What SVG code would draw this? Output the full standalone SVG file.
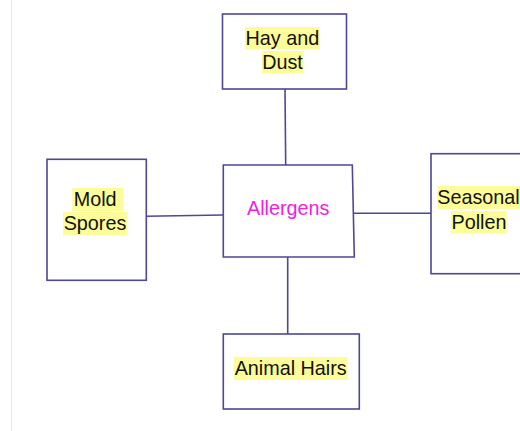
<svg xmlns="http://www.w3.org/2000/svg" width="520" height="431" viewBox="0 0 520 431">
<style>
.box{fill:#fff;stroke:#4d4796;stroke-width:1.6}
.ln{stroke:#4d4796;stroke-width:1.6;fill:none}
.hl{fill:#fcfc98}
.t{font-family:"Liberation Sans",Arial,sans-serif;font-size:19.8px;fill:#111;text-anchor:middle}
.m{fill:#ee22dd}
</style>
<rect width="520" height="431" fill="#fff"/>
<line x1="11.5" y1="0" x2="11.5" y2="431" stroke="#e6e6e6" stroke-width="1"/>
<g id="connectors">
<line class="ln" x1="285" y1="89" x2="285.7" y2="165"/>
<line class="ln" x1="146.3" y1="216.3" x2="223.3" y2="215"/>
<line class="ln" x1="353.5" y1="213.3" x2="431" y2="213.3"/>
<line class="ln" x1="287.7" y1="257" x2="287.7" y2="334"/>
</g>
<g id="hay">
<rect class="box" x="222.5" y="14" width="124" height="75"/>
<rect class="hl" x="245" y="27" width="74.5" height="22.5"/>
<rect class="hl" x="261.7" y="51" width="41.6" height="22.5"/>
<text class="t" x="282.4" y="45.3">Hay and</text>
<text class="t" x="282.5" y="69.3">Dust</text>
</g>
<g id="allergens">
<polygon class="box" points="223.3,165 352.3,165 354.3,257 223.3,257"/>
<text class="t m" x="288.2" y="214.5">Allergens</text>
</g>
<g id="mold">
<rect class="box" x="47" y="159.3" width="99.3" height="121"/>
<rect class="hl" x="72.3" y="188" width="51" height="23"/>
<rect class="hl" x="63" y="212" width="64.3" height="23"/>
<text class="t" x="95.2" y="206.3">Mold</text>
<text class="t" x="95" y="230.3">Spores</text>
</g>
<g id="pollen">
<rect class="box" x="431" y="153.7" width="100" height="120"/>
<rect class="hl" x="437.3" y="186" width="83" height="23"/>
<rect class="hl" x="451" y="211" width="55.7" height="22.5"/>
<text class="t" x="478.5" y="204.3">Seasonal</text>
<text class="t" x="479" y="229.3">Pollen</text>
</g>
<g id="animal">
<rect class="box" x="223.3" y="334" width="136" height="75"/>
<rect class="hl" x="234" y="357" width="113.3" height="23"/>
<text class="t" x="290.7" y="375.3">Animal Hairs</text>
</g>
</svg>
